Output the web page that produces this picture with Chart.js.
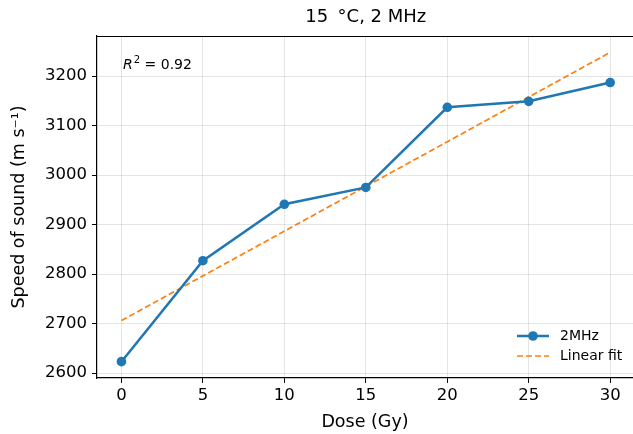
<!DOCTYPE html>
<html>
<head>
<meta charset="utf-8">
<script src="https://cdn.jsdelivr.net/npm/chart.js@4/dist/chart.umd.min.js"></script>
<style>
  html, body { margin: 0; padding: 0; background: #fff; }
  #wrap { width: 633px; height: 434px; }
</style>
</head>
<body>
<div id="wrap"><canvas id="chart" width="633" height="434"></canvas></div>
<script>
// ---- dados ----
const doseGy   = [0, 5, 10, 15, 20, 25, 30];
const speed2M  = [2623, 2827, 2941, 2975, 3137, 3149, 3187];
const fitDose  = [0, 30];
const fitSpeed = [2706, 3248];
const xTicks   = [0, 5, 10, 15, 20, 25, 30];
const yTicks   = [2600, 2700, 2800, 2900, 3000, 3100, 3200];
const rSquared = "0.92";
const titleTxt = "15 \u2009\u00B0C, 2 MHz";

const BLUE = "#1f77b4", ORANGE = "#ff7f0e";
const FONT = "'DejaVu Sans', sans-serif";

/* ---------- plugins ---------- */
// o eixo original continua além da borda direita da imagem (recortada),
// por isso o título fica centrado no eixo completo (até x = 31.5)
const titleSpine = {
  id: "titleSpine",
  afterDatasetsDraw(chart) {
    const { ctx, chartArea: a, scales } = chart;
    ctx.save();
    ctx.strokeStyle = "#000"; ctx.lineWidth = 1.2;
    ctx.beginPath(); ctx.moveTo(a.left, a.top + 0.5); ctx.lineTo(a.right, a.top + 0.5); ctx.stroke();
    const cx = (a.left + scales.x.getPixelForValue(31.5)) / 2;
    ctx.fillStyle = "#000";
    ctx.font = "18px " + FONT;
    ctx.textAlign = "center"; ctx.textBaseline = "middle";
    ctx.fillText(titleTxt, cx, 17);
    ctx.restore();
  }
};

const annot = {
  id: "annot",
  afterDraw(chart) {
    const { ctx, chartArea: a } = chart;
    ctx.save();
    ctx.fillStyle = "#000";
    ctx.textBaseline = "alphabetic";
    // R^2 = 0.92
    let x = a.left + 26, y = a.top + 33;
    ctx.font = "italic 14px " + FONT;
    ctx.fillText("R", x, y); x += ctx.measureText("R").width + 1;
    ctx.font = "10px " + FONT;
    ctx.fillText("2", x, y - 6); x += ctx.measureText("2").width;
    ctx.font = "14px " + FONT;
    ctx.fillText(" = " + rSquared, x, y);

    // legenda (canto inferior direito, sem moldura)
    const ds = chart.data.datasets;
    const lx = 517, lw = 32, tx = 560;
    const rows = [336, 356];
    ds.forEach((d, i) => {
      const ry = rows[i];
      ctx.strokeStyle = d.borderColor;
      ctx.lineWidth = d.borderWidth;
      ctx.setLineDash(d.borderDash || []);
      ctx.beginPath(); ctx.moveTo(lx, ry); ctx.lineTo(lx + lw, ry); ctx.stroke();
      ctx.setLineDash([]);
      if (d.pointRadius > 0) {
        ctx.fillStyle = d.pointBackgroundColor;
        ctx.beginPath(); ctx.arc(lx + lw / 2, ry, d.pointRadius, 0, Math.PI * 2); ctx.fill();
      }
      ctx.fillStyle = "#000";
      ctx.font = "14px " + FONT;
      ctx.textBaseline = "middle";
      ctx.fillText(d.label, tx, ry);
    });
    ctx.restore();
  }
};

const plain = v => String(v);

/* ---------- gráfico ---------- */
new Chart(document.getElementById("chart").getContext("2d"), {
  type: "line",
  data: {
    datasets: [
      {
        label: "2MHz",
        data: doseGy.map((x, i) => ({ x, y: speed2M[i] })),
        borderColor: BLUE, backgroundColor: BLUE,
        borderWidth: 2.5, pointRadius: 4.8, pointBackgroundColor: BLUE,
        pointBorderWidth: 0, tension: 0, fill: false
      },
      {
        label: "Linear fit",
        data: fitDose.map((x, i) => ({ x, y: fitSpeed[i] })),
        borderColor: ORANGE, backgroundColor: ORANGE,
        borderWidth: 1.7, borderDash: [6, 3], pointRadius: 0, fill: false
      }
    ]
  },
  options: {
    responsive: false, animation: false,
    layout: { autoPadding: false, padding: { top: 36, left: 0, right: 0, bottom: 0 } },
    plugins: {
      legend: { display: false },
      tooltip: { enabled: false },
      title: { display: false }
    },
    scales: {
      x: {
        type: "linear", min: -1.5, max: 31.4,
        afterBuildTicks: s => { s.ticks = xTicks.map(v => ({ value: v })); },
        afterFit: s => { s.height = 56; },
        grid: { color: "rgba(0,0,0,0.1)", tickColor: "#000", tickLength: 5, lineWidth: 1 },
        border: { display: true, color: "#000", width: 1.2 },
        ticks: { color: "#000", padding: 3, maxRotation: 0, callback: plain, font: { family: FONT, size: 16.5 } },
        title: {
          display: true, text: "Dose (Gy)", color: "#000",
          font: { family: FONT, size: 17.5 }, padding: { top: 0, bottom: 1 }
        }
      },
      y: {
        type: "linear", min: 2590, max: 3281,
        afterBuildTicks: s => { s.ticks = yTicks.map(v => ({ value: v })); },
        afterFit: s => { s.width = 97; },
        grid: { color: "rgba(0,0,0,0.1)", tickColor: "#000", tickLength: 5, lineWidth: 1 },
        border: { display: true, color: "#000", width: 1.2 },
        ticks: { color: "#000", padding: 5, callback: plain, font: { family: FONT, size: 16.5 } },
        title: {
          display: true, text: "Speed of sound (m s\u207B\u00B9)", color: "#000",
          font: { family: FONT, size: 17.5 }, padding: { top: 9, bottom: 0 }
        }
      }
    }
  },
  plugins: [titleSpine, annot]
});
</script>
</body>
</html>
